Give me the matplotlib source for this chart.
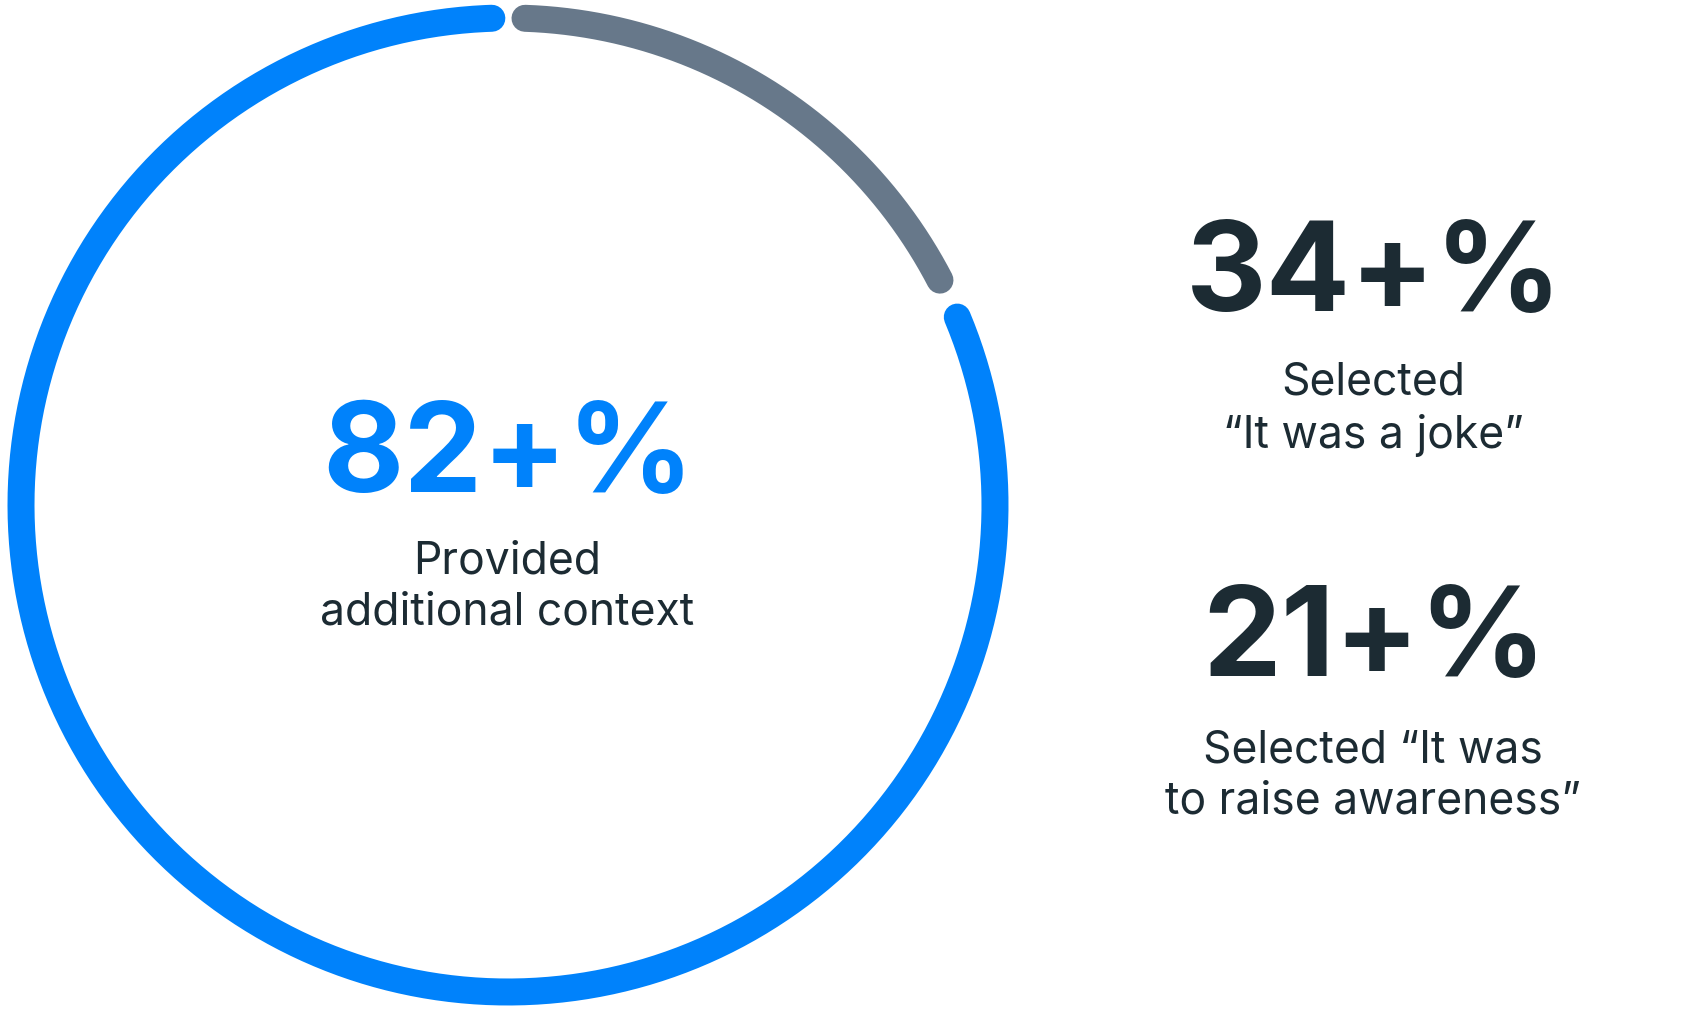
import numpy as np
import matplotlib
matplotlib.use('Agg')
import matplotlib.pyplot as plt

# arc segments, degrees clockwise from 12 o'clock
arc_names = ['82+% context', '34+% joke']
arc_starts = [67.3, 2.0]
arc_ends = [358.1, 62.5]
arc_colors = ['#0082fb', '#67788a']

# stat labels
big_labels = ['82+%', '34+%', '21+%']
small_labels = ['Provided\nadditional context',
                'Selected\n\u201cIt was a joke\u201d',
                'Selected \u201cIt was\nto raise awareness\u201d']
label_colors = ['#0082fb', '#1c2b33', '#1c2b33']

W, H = 1704, 1012
fig = plt.figure(figsize=(W / 100, H / 100), dpi=100)
ax = fig.add_axes([0, 0, 1, 1])
ax.set_xlim(0, W)
ax.set_ylim(H, 0)
ax.axis('off')

cx, cy, r = 508, 506, 487
lw = 27 * 72 / 100

for a0, a1, c in zip(arc_starts, arc_ends, arc_colors):
    t = np.radians(np.linspace(a0, a1, 400))
    ax.plot(cx + r * np.sin(t), cy - r * np.cos(t), color=c, lw=lw,
            solid_capstyle='round')

plt.rcParams['font.family'] = ['Inter', 'DejaVu Sans']

# positions of text blocks
big_pos = [(508, 459), (1374, 278), (1374, 643)]
small_pos = [(507, 587), (1373, 409), (1373, 776)]

for (x, y), s, c in zip(big_pos, big_labels, label_colors):
    ax.text(x, y, s, color=c, fontsize=90, fontweight='bold',
            ha='center', va='center')
for (x, y), s in zip(small_pos, small_labels):
    ax.text(x, y, s, color='#1c2b33', fontsize=32, ha='center',
            va='center', linespacing=1.3)

fig.savefig('out.png', dpi=100, facecolor='white')
